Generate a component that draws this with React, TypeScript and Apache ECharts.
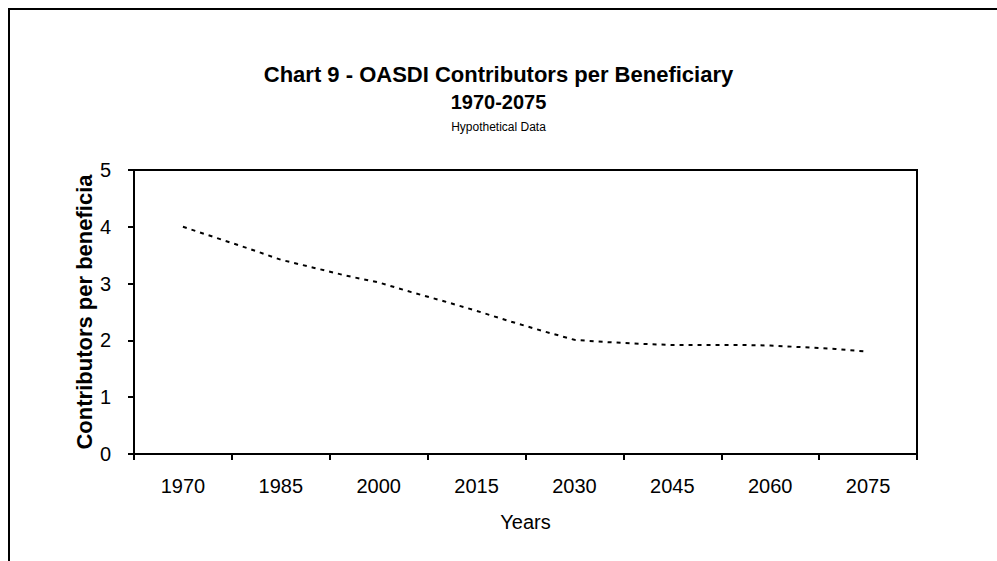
import React, { useEffect, useRef } from "react";
import * as echarts from "echarts";

const categories = ["1970", "1985", "2000", "2015", "2030", "2045", "2060", "2075"];
const years = [1970, 1975, 1980, 1985, 1990, 1995, 2000, 2005, 2010, 2015, 2020, 2025, 2030, 2035, 2040, 2045, 2050, 2055, 2060, 2065, 2070, 2075];
const ratios = [4.0, 3.81, 3.62, 3.42, 3.28, 3.14, 3.02, 2.85, 2.69, 2.52, 2.34, 2.17, 2.01, 1.97, 1.94, 1.92, 1.92, 1.92, 1.91, 1.88, 1.85, 1.8];
const yTicks = [0, 1, 2, 3, 4, 5];

const FONT = "Liberation Sans, Arial, sans-serif";

export default function App() {
  const ref = useRef<HTMLDivElement>(null);
  useEffect(() => {
    if (!ref.current) return;
    const chart = echarts.init(ref.current, null, { renderer: "svg" });
    chart.setOption({
      animation: false,
      backgroundColor: "#ffffff",
      textStyle: { fontFamily: FONT },
      title: [
        { text: "Chart 9 - OASDI Contributors per Beneficiary", left: "center", top: 58, textStyle: { fontFamily: FONT, fontSize: 22, fontWeight: "bold", color: "#000" } },
        { text: "1970-2075", left: "center", top: 87, textStyle: { fontFamily: FONT, fontSize: 20, fontWeight: "bold", color: "#000" } },
        { text: "Hypothetical Data", left: "center", top: 116, textStyle: { fontFamily: FONT, fontSize: 12, fontWeight: "normal", color: "#000" } },
      ],
      graphic: [
        { type: "rect", shape: { x: 9, y: 9, width: 1100, height: 700 }, style: { fill: "none", stroke: "#000", lineWidth: 2 }, silent: true },
      ],
      grid: { left: 134, top: 170, right: 80, bottom: 107, show: true, borderColor: "#000", borderWidth: 2 },
      xAxis: [
        {
          type: "category",
          data: categories,
          boundaryGap: true,
          name: "Years",
          nameLocation: "middle",
          nameGap: 58,
          nameMoveOverlap: false,
          nameTextStyle: { fontFamily: FONT, fontSize: 20, color: "#000" },
          axisLine: { show: true, lineStyle: { color: "#000", width: 2 } },
          axisTick: { show: true, alignWithLabel: false, length: 6, lineStyle: { color: "#000", width: 2 } },
          axisLabel: { margin: 22, fontFamily: FONT, fontSize: 20, color: "#000" },
          splitLine: { show: false },
        },
        {
          type: "value",
          min: 1962.5,
          max: 2082.5,
          show: false,
        },
      ],
      yAxis: {
        type: "value",
        min: 0,
        max: 5,
        interval: 1,
        name: "Contributors per beneficia",
        nameLocation: "middle",
        nameGap: 39,
        nameMoveOverlap: false,
        nameTextStyle: { fontFamily: FONT, fontSize: 22, fontWeight: "bold", color: "#000" },
        axisLine: { show: true, lineStyle: { color: "#000", width: 2 } },
        axisTick: { show: true, length: 6, lineStyle: { color: "#000", width: 2 } },
        axisLabel: { margin: 23, fontFamily: FONT, fontSize: 20, color: "#000", formatter: (v: number) => (yTicks.includes(v) ? String(v) : "") },
        splitLine: { show: false },
      },
      series: [
        {
          type: "line",
          xAxisIndex: 1,
          data: years.map((y, i) => [y, ratios[i]]),
          symbol: "none",
          lineStyle: { color: "#000", width: 2, type: [4, 5] },
        },
      ],
    });
    return () => chart.dispose();
  }, []);
  return <div ref={ref} style={{ position: "fixed", left: 0, top: 0, width: 997, height: 561 }} />;
}
